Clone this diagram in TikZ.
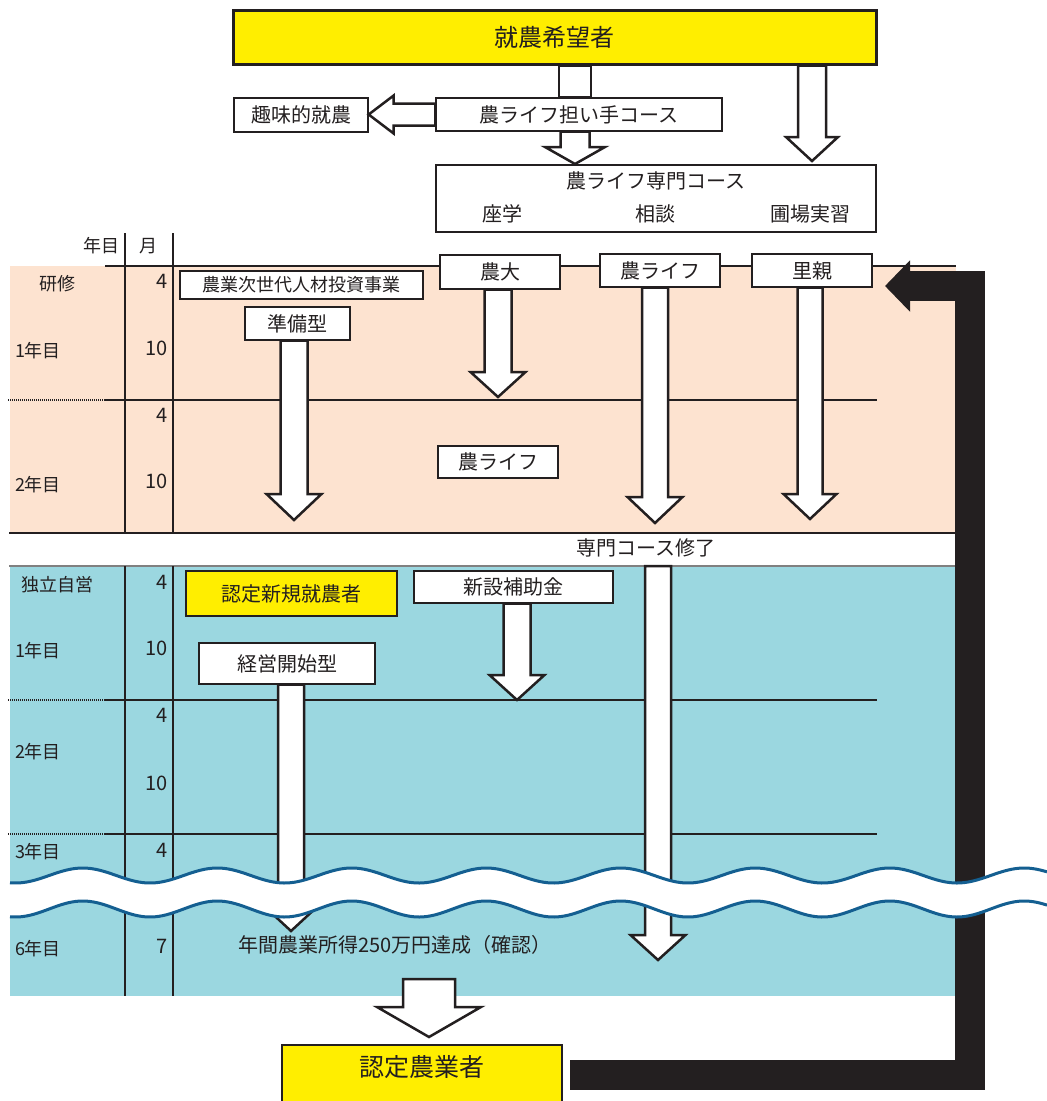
\documentclass[tikz,border=0pt]{standalone}
\usepackage{fontspec}
\setmainfont{Noto Sans CJK JP}
\usetikzlibrary{calc,arrows.meta}
\definecolor{peach}{RGB}{253,227,208}
\definecolor{aqua}{RGB}{155,215,224}
\definecolor{yel}{RGB}{255,238,0}
\definecolor{wavec}{RGB}{20,95,145}
\definecolor{ink}{RGB}{35,31,32}
\newcommand{\blkdown}[5]{\draw[blk] let \p1=(#1), \p2=(#2) in (\x2-#3,\y1) -- (\x2-#3,\y2+#5) -- (\x2-#4,\y2+#5) -- (\x2,\y2) -- (\x2+#4,\y2+#5) -- (\x2+#3,\y2+#5) -- (\x2+#3,\y1) -- cycle;}
\begin{document}
\begin{tikzpicture}[x=1pt,y=-1pt,
  box/.style={draw=ink, line width=1.3pt, fill=white, inner sep=0pt, text=ink, font=\fontsize{20}{24}\selectfont},
  ybox/.style={box, fill=yel, line width=3pt},
  blk/.style={draw=ink, line width=2.5pt, fill=white, line join=miter},
  lbl/.style={inner sep=0pt, text=ink, font=\fontsize{20}{24}\selectfont},
  lbls/.style={inner sep=0pt, text=ink, font=\fontsize{18}{22}\selectfont},
  num/.style={inner sep=0pt, anchor=east, text=ink, font=\fontsize{20}{24}\selectfont},
  grid/.style={draw=ink, line width=2pt},
  dots/.style={draw=ink, line width=1.5pt, dash pattern=on 1pt off 1pt},
  wavy/.style={draw=wavec, line width=3pt}]
\useasboundingbox (0,0) rectangle (1047,1101);
% background bands
\fill[peach] (10,266) rectangle (956,533);
\fill[aqua] (10,566) rectangle (956,996);
% table lines
\draw[grid] (125,233) -- (125,533);
\draw[grid] (173,233) -- (173,533);
\draw[grid] (105,266) -- (956,266);
\draw[grid] (105,400) -- (877,400);
\draw[dots] (8,400) -- (105,400);
\draw[grid] (9,533) -- (956,533);
\draw[draw=gray, line width=1.5pt] (9,566) -- (956,566);
\draw[grid] (125,566) -- (125,996);
\draw[grid] (173,566) -- (173,996);
\draw[grid] (105,700) -- (877,700);
\draw[dots] (8,700) -- (105,700);
\draw[grid] (105,834) -- (877,834);
\draw[dots] (8,834) -- (105,834);
% boxes
\node[ybox, minimum width=643pt, minimum height=54pt, font=\fontsize{24}{28}\selectfont] (kibou) at (554.5,37) {就農希望者};
\node[box, minimum width=134pt, minimum height=34pt] (shumi) at (301,115) {趣味的就農};
\node[box, minimum width=286pt, minimum height=33pt] (ninaite) at (579,114.5) {農ライフ担い手コース};
\node[box, minimum width=440pt, minimum height=67pt] (senmon) at (656,198.5) {};
\node[lbl] (senmonT) at (656,181) {農ライフ専門コース};
\node[lbl] (zagaku) at (502,214) {座学};
\node[lbl] (soudan) at (655,214) {相談};
\node[lbl] (hojou) at (810,214) {圃場実習};
\node[box, minimum width=243pt, minimum height=28pt, font=\fontsize{18}{22}\selectfont] (jisedai) at (301.5,285) {農業次世代人材投資事業};
\node[box, minimum width=105pt, minimum height=33pt] (junbi) at (297.5,323.5) {準備型};
\node[box, minimum width=120pt, minimum height=34pt] (noudai) at (500,272) {農大};
\node[box, minimum width=120pt, minimum height=33pt] (nlife1) at (660,270.5) {農ライフ};
\node[box, minimum width=120pt, minimum height=33pt] (satooya) at (812,270.5) {里親};
\node[box, minimum width=120pt, minimum height=32pt] (nlife2) at (498,462) {農ライフ};
\node[ybox, line width=2.5pt, minimum width=211pt, minimum height=45pt] (shinki) at (291.5,593.5) {認定新規就農者};
\node[box, minimum width=199pt, minimum height=32pt] (hojo) at (513.5,587) {新設補助金};
\node[box, minimum width=176pt, minimum height=41pt] (keiei) at (287,663.5) {経営開始型};
\node[ybox, line width=2pt, minimum width=280pt, minimum height=70pt, text height=20pt, text depth=26.5pt, font=\fontsize{25}{30}\selectfont] (nintei) at (422,1080) {認定農業者};
% block arrows
\coordinate (t1) at (575,164);
\draw[blk] let \p1=(kibou.south), \p2=(ninaite.north), \p3=(t1) in (\x3-16pt,\y1) rectangle (\x3+16pt,\y2);
\draw[blk] let \p1=(ninaite.west), \p2=(shumi.east) in (\x1,\y1+11pt) -- (\x2+25pt,\y1+11pt) -- (\x2+25pt,\y1+19pt) -- (\x2,\y1) -- (\x2+25pt,\y1-19pt) -- (\x2+25pt,\y1-11pt) -- (\x1,\y1-11pt) -- cycle;
\blkdown{ninaite.south}{t1}{14.5pt}{30pt}{17pt}
\coordinate (t2) at (812,161);
\blkdown{kibou.south}{t2}{14pt}{26pt}{24pt}
\coordinate (t3) at (294,520);
\blkdown{junbi.south}{t3}{13.5pt}{27.5pt}{26pt}
\coordinate (t4) at (498,397);
\blkdown{noudai.south}{t4}{13.5pt}{27.5pt}{25pt}
\coordinate (t5) at (655,523);
\blkdown{nlife1.south}{t5}{13pt}{27.5pt}{26pt}
\coordinate (t6) at (810,519);
\blkdown{satooya.south}{t6}{12.5pt}{26.5pt}{25pt}
\coordinate (t7) at (517,700);
\blkdown{hojo.south}{t7}{13.5pt}{27.5pt}{25pt}
\coordinate (t8) at (291,931);
\blkdown{keiei.south}{t8}{13pt}{27pt}{25pt}
\coordinate (s9) at (658,566);
\coordinate (t9) at (658,960);
\blkdown{s9}{t9}{13pt}{27.5pt}{25pt}
\coordinate (s10) at (429,979);
\coordinate (t10) at (429,1037);
\blkdown{s10}{t10}{26pt}{52pt}{30pt}
% black return arrow
\coordinate (bs) at (570,1075);
\coordinate (bc) at (969.5,286);
\coordinate (bt) at (885,286);
\draw[draw=ink, line width=30pt, line join=miter, -{Triangle[length=25pt,width=50pt]}] (bs) -| (bc) -- (bt);
% wave break
\fill[white] plot[domain=10:1047, samples=300] (\x,{875.5+7.5*cos((\x-150)*2.6766)}) -- plot[domain=1047:10, samples=300] (\x,{909+8*cos((\x-150)*2.6766)}) -- cycle;
\draw[wavy] plot[domain=10:1047, samples=300] (\x,{875.5+7.5*cos((\x-150)*2.6766)});
\draw[wavy] plot[domain=10:1047, samples=300] (\x,{909+8*cos((\x-150)*2.6766)});
% texts
\node[lbl] (shuryo) at (646,548) {専門コース修了};
\node[lbl] (income) at (395,945) {年間農業所得250万円達成（確認）};
\node[lbls] (hY) at (101,246) {年目};
\node[lbls] (hM) at (148,246) {月};
\node[lbls] (kenshu) at (57,284) {研修};
\node[lbls] (y1a) at (38,351) {1年目};
\node[lbls] (y2a) at (38,485) {2年目};
\node[num] (m4a) at (168,281) {4};
\node[num] (m10a) at (168,348) {10};
\node[num] (m4b) at (168,415) {4};
\node[num] (m10b) at (168,481) {10};
\node[lbls] (dokuritsu) at (57,585) {独立自営};
\node[lbls] (y1b) at (38,651) {1年目};
\node[lbls] (y2b) at (38,752) {2年目};
\node[lbls] (y3b) at (38,852) {3年目};
\node[lbls] (y6b) at (38,949) {6年目};
\node[num] (m4c) at (168,582) {4};
\node[num] (m10c) at (168,648) {10};
\node[num] (m4d) at (168,715) {4};
\node[num] (m10d) at (168,783) {10};
\node[num] (m4e) at (168,850) {4};
\node[num] (m7e) at (168,946) {7};
\end{tikzpicture}
\end{document}
